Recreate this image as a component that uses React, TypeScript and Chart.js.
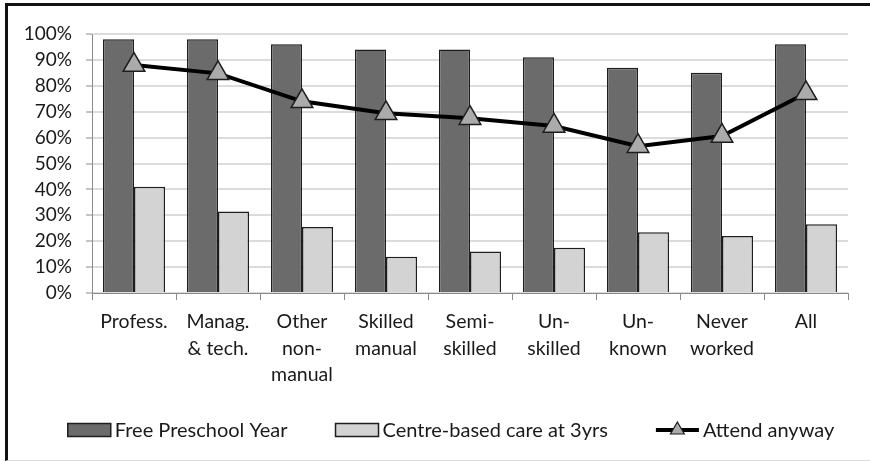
import React, { useEffect, useRef } from 'react';
import { Chart, registerables } from 'chart.js';

Chart.register(...registerables);

const FONT = 'Lato, "Open Sans", sans-serif';

const categories: string[][] = [
  ['Profess.'],
  ['Manag.', '& tech.'],
  ['Other', 'non-', 'manual'],
  ['Skilled', 'manual'],
  ['Semi-', 'skilled'],
  ['Un-', 'skilled'],
  ['Un-', 'known'],
  ['Never', 'worked'],
  ['All'],
];

const freePreschoolYear = [98, 98, 96, 94, 94, 91, 87, 85, 96];
const centreBasedCare3yrs = [41, 31.5, 25.5, 14, 16, 17.5, 23.5, 22, 26.5];
const attendAnyway = [88, 84.8, 74, 69.4, 67.5, 64.5, 56.7, 60.6, 77.1];

const seriesNames = ['Free Preschool Year', 'Centre-based care at 3yrs', 'Attend anyway'];

const DARK = '#6b6b6b';
const LIGHT = '#d3d3d3';
const EDGE = '#1e1e1e';
const MARKER = '#ababab';

const legendPlugin = {
  id: 'excelLegend',
  afterDraw(chart: any) {
    const ctx = chart.ctx as CanvasRenderingContext2D;
    ctx.save();
    ctx.font = `20px ${FONT}`;
    const boxW = 43;
    const boxH = 13;
    const textGap = 4;
    const itemGap = 48;
    const widths = seriesNames.map((t) => boxW + textGap + ctx.measureText(t).width);
    const total = widths.reduce((a, b) => a + b, 0) + itemGap * (seriesNames.length - 1);
    let x = chart.width / 2 + 16 - total / 2;
    const y = chart.height - 31;
    seriesNames.forEach((name, i) => {
      if (i < 2) {
        ctx.fillStyle = i === 0 ? DARK : LIGHT;
        ctx.fillRect(x, y - boxH / 2, boxW, boxH);
        ctx.strokeStyle = EDGE;
        ctx.lineWidth = 1.5;
        ctx.strokeRect(x, y - boxH / 2, boxW, boxH);
      } else {
        ctx.strokeStyle = '#000';
        ctx.lineWidth = 4;
        ctx.beginPath();
        ctx.moveTo(x, y);
        ctx.lineTo(x + boxW, y);
        ctx.stroke();
        const r = 8;
        const cx = x + boxW / 2;
        ctx.beginPath();
        ctx.moveTo(cx, y - r);
        ctx.lineTo(cx + r * 0.866, y + r / 2);
        ctx.lineTo(cx - r * 0.866, y + r / 2);
        ctx.closePath();
        ctx.fillStyle = MARKER;
        ctx.fill();
        ctx.lineWidth = 1.2;
        ctx.strokeStyle = EDGE;
        ctx.stroke();
      }
      ctx.fillStyle = '#1a1a1a';
      ctx.textBaseline = 'middle';
      ctx.textAlign = 'left';
      ctx.fillText(name, x + boxW + textGap, y + 1);
      x += widths[i] + itemGap;
    });
    ctx.restore();
  },
};

export default function App() {
  const ref = useRef<HTMLCanvasElement | null>(null);

  useEffect(() => {
    document.body.style.margin = '0';
    const canvas = ref.current!;
    const chart = new Chart(canvas, {
      type: 'bar',
      data: {
        labels: categories,
        datasets: [
          {
            type: 'bar',
            label: seriesNames[0],
            data: freePreschoolYear,
            backgroundColor: DARK,
            borderColor: EDGE,
            borderWidth: 1.5,
            categoryPercentage: 0.74,
            barPercentage: 1,
            order: 2,
          },
          {
            type: 'bar',
            label: seriesNames[1],
            data: centreBasedCare3yrs,
            backgroundColor: LIGHT,
            borderColor: EDGE,
            borderWidth: 1.5,
            categoryPercentage: 0.74,
            barPercentage: 1,
            order: 2,
          },
          {
            type: 'line',
            label: seriesNames[2],
            data: attendAnyway,
            borderColor: '#000',
            borderWidth: 4,
            pointStyle: 'triangle',
            pointRadius: 12.5,
            pointBackgroundColor: MARKER,
            pointBorderColor: EDGE,
            pointBorderWidth: 1.5,
            tension: 0,
            order: 0,
          } as any,
        ],
      },
      options: {
        responsive: false,
        maintainAspectRatio: false,
        animation: false,
        layout: { padding: { left: 0, right: 22, top: 34, bottom: 50 } },
        plugins: {
          legend: { display: false },
          tooltip: { enabled: false },
        },
        scales: {
          x: {
            offset: true,
            grid: {
              display: true,
              drawOnChartArea: false,
              offset: true,
              tickLength: 7,
              tickColor: '#8a8a8a',
              tickWidth: 1,
            },
            border: { color: '#8a8a8a', width: 1 },
            ticks: {
              color: '#1a1a1a',
              font: { family: FONT, size: 19.5, lineHeight: 1.35 },
              maxRotation: 0,
              minRotation: 0,
              autoSkip: false,
              padding: 9,
            },
            afterFit: (s: any) => {
              s.height = 118;
            },
          },
          y: {
            min: 0,
            max: 100,
            grid: {
              color: '#dcdcdc',
              lineWidth: 2,
              tickLength: 6,
              tickColor: '#8a8a8a',
              tickWidth: 1,
            },
            border: { color: '#8a8a8a', width: 1 },
            ticks: {
              stepSize: 10,
              color: '#1a1a1a',
              font: { family: FONT, size: 19 },
              padding: 14,
              callback: (v: any) => `${v}%`,
            },
            afterFit: (s: any) => {
              s.width = 92;
            },
          },
        },
      },
      plugins: [legendPlugin],
    });
    return () => chart.destroy();
  }, []);

  return (
    <div style={{ position: 'relative', width: 870, height: 461, overflow: 'hidden', background: '#fff' }}>
      <canvas ref={ref} width={870} height={461} style={{ position: 'absolute', left: 0, top: 0, width: 870, height: 461 }} />
      <div
        style={{
          position: 'absolute',
          left: 5,
          top: 3,
          right: -10,
          bottom: 0,
          boxSizing: 'border-box',
          borderTop: '3px solid #111',
          borderLeft: '3px solid #111',
          borderBottom: '1px solid #dddddd',
          pointerEvents: 'none',
        }}
      />
    </div>
  );
}
